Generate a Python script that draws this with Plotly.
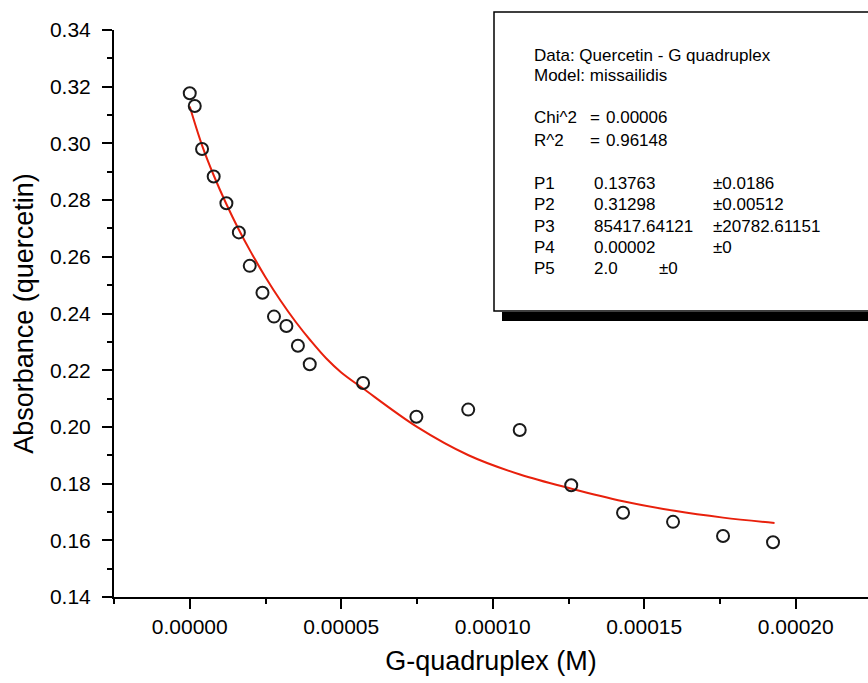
import plotly.graph_objects as go

# ---- data ----
conc_M = [0.0, 0.165e-5, 0.406e-5, 0.79e-5, 1.21e-5, 1.62e-5, 1.98e-5, 2.40e-5,
          2.78e-5, 3.19e-5, 3.57e-5, 3.96e-5, 5.72e-5, 7.48e-5, 9.19e-5,
          10.89e-5, 12.59e-5, 14.30e-5, 15.95e-5, 17.60e-5, 19.25e-5]
absorbance = [0.3177, 0.3132, 0.2980, 0.2883, 0.2789, 0.2686, 0.2568, 0.2473,
              0.2389, 0.2356, 0.2286, 0.2221, 0.2155, 0.2036, 0.2061,
              0.1989, 0.1794, 0.1697, 0.1665, 0.1615, 0.1593]

fit_x = [0.0, 0.4e-5, 0.8e-5, 1.2e-5, 1.6e-5, 2.0e-5, 2.5e-5, 3.0e-5, 3.5e-5,
         4.0e-5, 4.5e-5, 5.0e-5, 5.7e-5, 7.5e-5, 9.2e-5, 10.9e-5, 12.6e-5,
         14.3e-5, 16.0e-5, 17.6e-5, 19.3e-5]
fit_y = [0.3130, 0.2995, 0.2885, 0.2788, 0.2700, 0.2620, 0.2528, 0.2445, 0.2370,
         0.2303, 0.2242, 0.2192, 0.2137, 0.2000, 0.1900, 0.1832, 0.1782,
         0.1738, 0.1704, 0.1680, 0.1661]

x_ticks = [0.0, 0.00005, 0.00010, 0.00015, 0.00020]
y_ticks = [0.14, 0.16, 0.18, 0.20, 0.22, 0.24, 0.26, 0.28, 0.30, 0.32, 0.34]

# info box rows: label, "=", value, error
box_lines = [
    ("Data: Quercetin - G quadruplex", "", "", ""),
    ("Model: missailidis", "", "", ""),
    ("Chi^2", "=", "0.00006", ""),
    ("R^2", "=", "0.96148", ""),
    ("P1", "", "0.13763", "±0.0186"),
    ("P2", "", "0.31298", "±0.00512"),
    ("P3", "", "85417.64121", "±20782.61151"),
    ("P4", "", "0.00002", "±0"),
    ("P5", "", "2.0", ""),
]

# ---- layout geometry (pixels) ----
W, H = 868, 683
L, R, T, B = 114, 0, 30, 86
PW, PH = W - L - R, H - T - B

def px(x):
    return (x - L) / PW

def py(y):
    return (H - B - y) / PH

FONT = "Arial, Liberation Sans, sans-serif"
BOXFONT = dict(family=FONT, size=17, color="black")

fig = go.Figure()
fig.add_trace(go.Scatter(x=fit_x, y=fit_y, mode="lines",
                         line=dict(color="#e8200c", width=2, shape="spline"),
                         showlegend=False, hoverinfo="skip"))
fig.add_trace(go.Scatter(x=conc_M, y=absorbance, mode="markers",
                         marker=dict(symbol="circle-open", size=12, color="#1a1a1a",
                                     line=dict(width=2, color="#1a1a1a")),
                         showlegend=False))

axis_common = dict(showline=True, linecolor="black", linewidth=2, ticks="outside",
                   tickcolor="black", tickwidth=2, ticklen=10, showgrid=False,
                   zeroline=False, mirror=False,
                   tickfont=dict(family=FONT, size=21, color="black"))

fig.update_xaxes(range=[-0.000025, -0.000025 + PW / 151.5 * 0.00005],
                 tickvals=x_ticks, tickformat=".5f",
                 minor=dict(ticks="outside", ticklen=5, tickwidth=2, tickcolor="black",
                            dtick=0.000025, tick0=0, showgrid=False),
                 title=dict(text="G-quadruplex (M)", font=dict(family=FONT, size=27, color="black"),
                            standoff=14),
                 **axis_common)
fig.update_yaxes(range=[0.14, 0.34], tickvals=y_ticks, tickformat=".2f",
                 minor=dict(ticks="outside", ticklen=5, tickwidth=2, tickcolor="black",
                            dtick=0.01, tick0=0.14, showgrid=False),
                 ticklabelstandoff=7,
                 title=dict(text="Absorbance (quercetin)", font=dict(family=FONT, size=27, color="black"),
                            standoff=8),
                 **axis_common)

# info box
shapes = [
    dict(type="rect", xref="paper", yref="paper", x0=px(494), x1=px(880), y0=py(311), y1=py(12),
         line=dict(color="black", width=1.5), fillcolor="white", layer="above"),
    dict(type="rect", xref="paper", yref="paper", x0=px(502), x1=px(880), y0=py(321), y1=py(312),
         line=dict(width=0), fillcolor="black", layer="above"),
]
annotations = []

def add_text(text, xpix, ypix):
    annotations.append(dict(text=text, x=px(xpix), y=py(ypix), xref="paper", yref="paper",
                            xanchor="left", yanchor="middle", showarrow=False, font=BOXFONT))

row_y = [55, 75, 117, 140, 183, 204, 226, 247, 268]
for (a, eq, b, c), yy in zip(box_lines, row_y):
    add_text(a, 532, yy)
    if eq:
        add_text(eq, 588, yy)
        add_text(b, 604, yy)
    elif b:
        add_text(b, 592, yy)
    if c:
        add_text(c, 711, yy)
add_text("±0", 657, 268)

fig.update_layout(width=W, height=H, autosize=False,
                  margin=dict(l=L, r=R, t=T, b=B, pad=0),
                  paper_bgcolor="white", plot_bgcolor="white",
                  shapes=shapes, annotations=annotations,
                  font=dict(family=FONT, color="black"))

fig.write_html("out.html", config={"displayModeBar": False},
               post_script="document.body.style.margin='0';document.body.style.overflow='hidden';")
